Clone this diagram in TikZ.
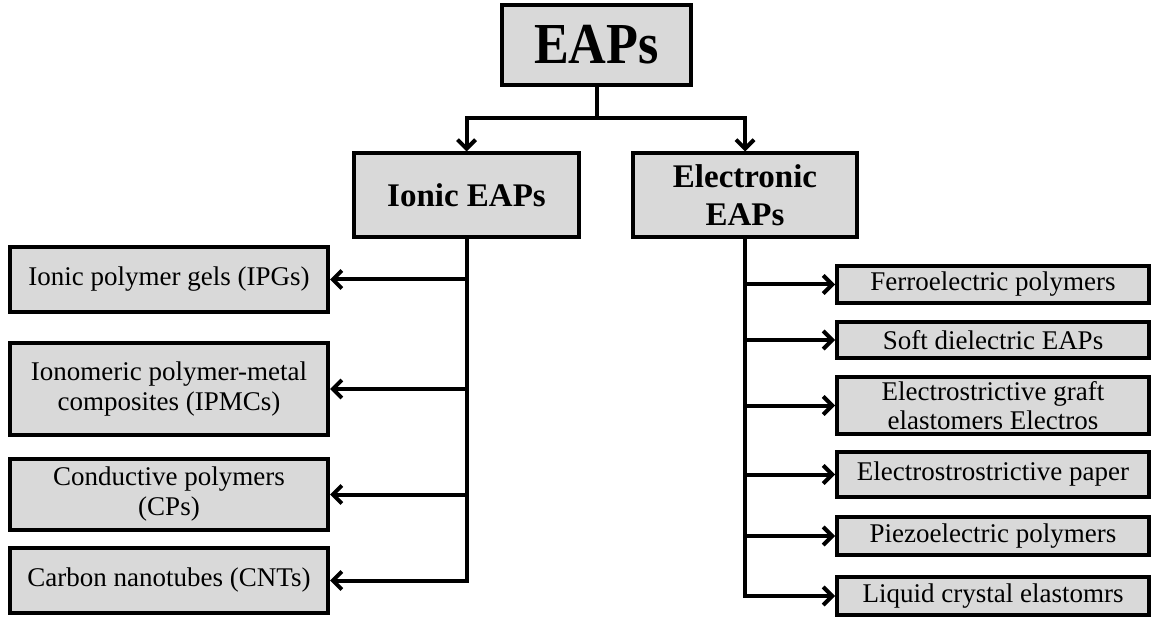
\documentclass[tikz,border=0pt]{standalone}
\usepackage{fontspec}
\setmainfont{Liberation Serif}
\newfontfamily\titlefont[FakeStretch=0.9]{Liberation Serif}
\usetikzlibrary{arrows.meta}
\definecolor{boxgray}{RGB}{217,217,217}
\tikzset{
  box/.style={draw=black, line width=4pt, fill=boxgray, inner sep=0pt, align=center, anchor=center},
  lbox/.style={box, minimum width=318pt, font=\fontsize{27}{30}\selectfont},
  rbox/.style={box, minimum width=312pt, font=\fontsize{27}{29}\selectfont},
  conn/.style={line width=4pt},
  arr/.style={conn, -{Straight Barb[length=9pt,width=18pt,line width=4pt]}},
}
\begin{document}
\begin{tikzpicture}[x=1pt,y=-1pt]
\useasboundingbox (0,0) rectangle (1151,617);
\node[box, minimum width=189pt, minimum height=80pt, font=\titlefont\bfseries\fontsize{58}{60}\selectfont] (eaps) at (596.5,45) {EAPs};
\node[box, minimum width=225pt, minimum height=84pt, font=\bfseries\fontsize{33}{38}\selectfont] (ionic) at (466.5,195.5) {Ionic EAPs};
\node[box, minimum width=224pt, minimum height=84pt, font=\bfseries\fontsize{33}{38}\selectfont] (elec) at (745,195.5) {Electronic\\EAPs};

\node[lbox, minimum height=65pt] (l1) at (169,279.5) {Ionic polymer gels (IPGs)};
\node[lbox, minimum height=92pt] (l2) at (169,389) {Ionomeric polymer-metal\\composites (IPMCs)};
\node[lbox, minimum height=71pt] (l3) at (169,494.5) {Conductive polymers\\(CPs)};
\node[lbox, minimum height=65pt] (l4) at (169,580.5) {Carbon nanotubes (CNTs)};

\node[rbox, minimum height=37pt] (r1) at (993,284.5) {Ferroelectric polymers};
\node[rbox, minimum height=36pt] (r2) at (993,340) {Soft dielectric EAPs};
\node[rbox, minimum height=57pt] (r3) at (993,405.5) {Electrostrictive graft\\elastomers Electros};
\node[rbox, minimum height=45pt] (r4) at (993,474.5) {Electrostrostrictive paper};
\node[rbox, minimum height=38pt] (r5) at (993,536) {Piezoelectric polymers};
\node[rbox, minimum height=38pt] (r6) at (993,596) {Liquid crystal elastomrs};

\coordinate (split) at (596.5,118);
\coordinate (ltop) at (466.5,238);
\coordinate (rtop) at (745,238);

\draw[conn] (eaps.south) -- (split);
\draw[arr, line join=miter] (split) -| (ionic.north);
\draw[arr, line join=miter] (split) -| (elec.north);

\draw[conn, line cap=rect] (ltop) -- (l4.east -| ltop);
\draw[conn, line cap=rect] (rtop) -- (r6.west -| rtop);

\foreach \n in {l1,l2,l3,l4} \draw[arr] (\n.east -| ltop) -- (\n.east);
\foreach \n in {r1,r2,r3,r4,r5,r6} \draw[arr] (\n.west -| rtop) -- (\n.west);
\end{tikzpicture}
\end{document}
